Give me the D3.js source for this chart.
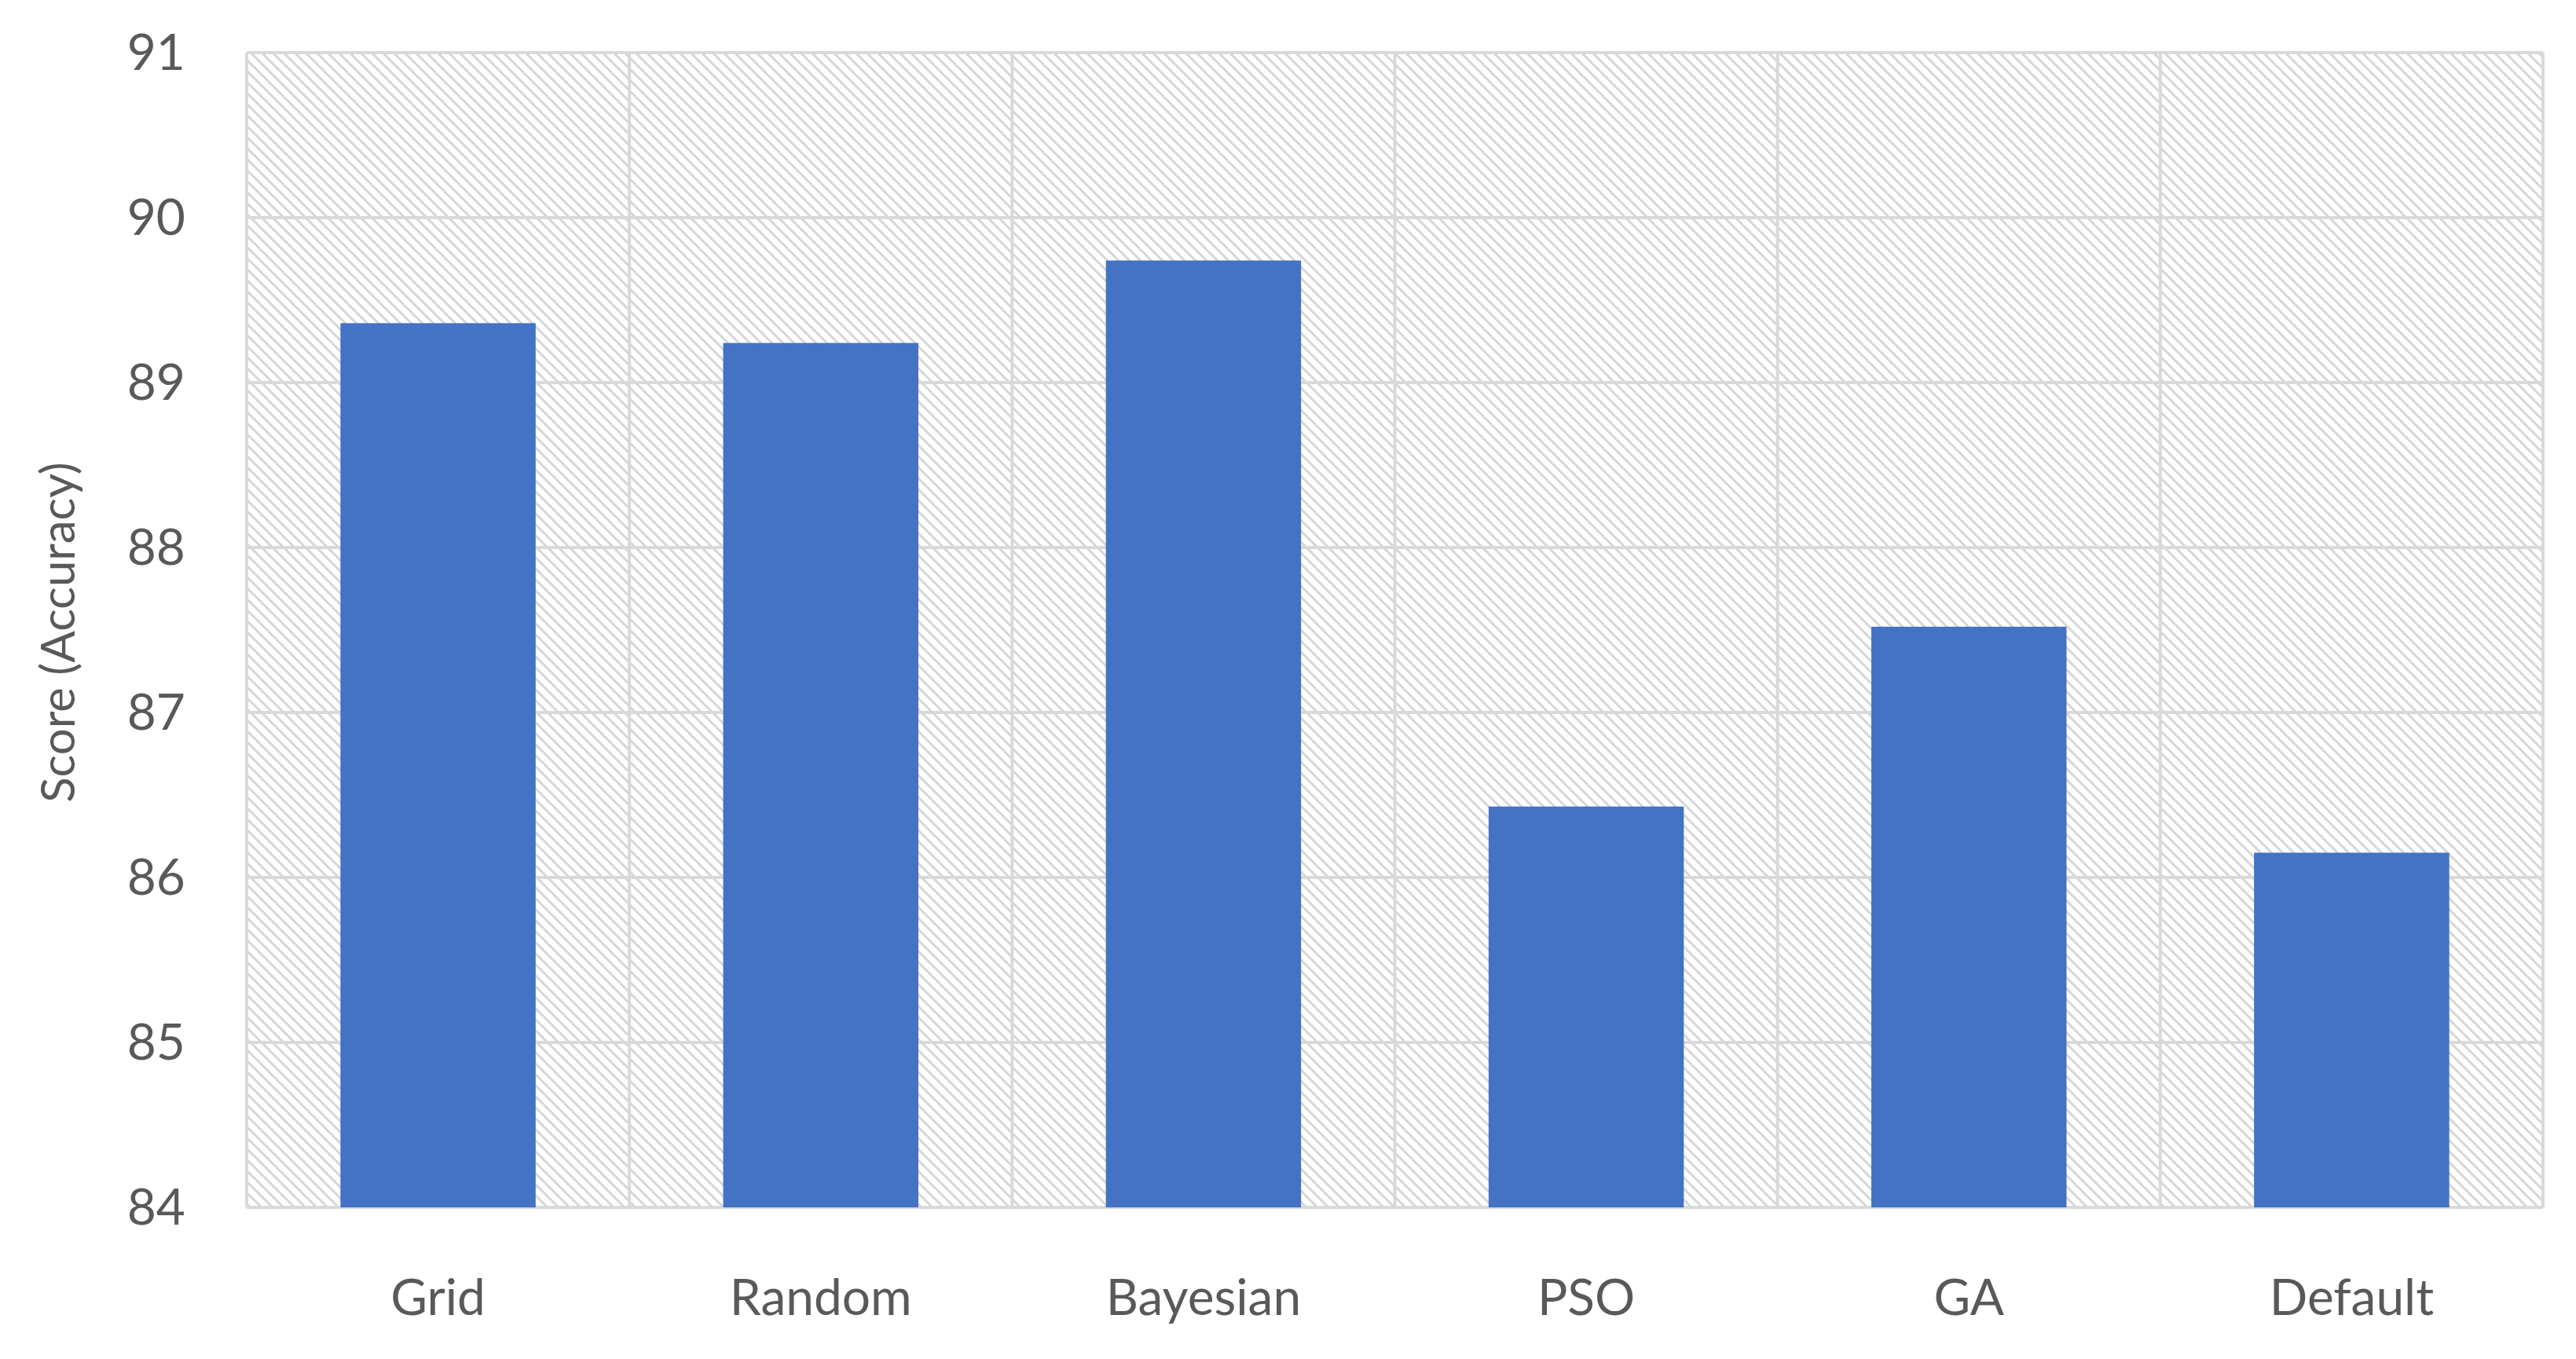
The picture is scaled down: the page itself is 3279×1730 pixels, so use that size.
<!DOCTYPE html>
<html><head><meta charset="utf-8">
<script src="https://cdn.jsdelivr.net/npm/d3@7"></script>
<style>body{margin:0;background:#fff}</style></head>
<body><svg id="c" width="3279" height="1730"></svg>
<script>
const categories = ["Grid","Random","Bayesian","PSO","GA","Default"];
const values = [89.36, 89.24, 89.74, 86.43, 87.52, 86.15];
const yTicks = [84,85,86,87,88,89,90,91];

const svg = d3.select("#c");
const L=314, R=3237, T=67, B=1537;
const x = d3.scaleBand().domain(categories).range([L,R]).paddingInner(0.49).paddingOuter(0.245);
const xb = d3.scaleBand().domain(categories).range([L,R]);
const y = d3.scaleLinear().domain([84,91]).range([B,T]);
const font = "Lato, 'Open Sans', sans-serif";

const defs = svg.append("defs");
const p = defs.append("pattern").attr("id","hatch").attr("patternUnits","userSpaceOnUse")
  .attr("width",14).attr("height",14);
p.append("rect").attr("width",14).attr("height",14).attr("fill","#fff");
p.append("path").attr("d","M-2,-2 L16,16 M-2,12 L2,16 M12,-2 L16,2").attr("stroke","#d6d6d6").attr("stroke-width",3);

svg.append("rect").attr("x",L).attr("y",T).attr("width",R-L).attr("height",B-T).attr("fill","url(#hatch)");

const grid = svg.append("g").attr("stroke","#d9d9d9").attr("stroke-width",4);
grid.selectAll("line.h").data(yTicks).join("line").attr("class","h")
  .attr("x1",L).attr("x2",R).attr("y1",d=>y(d)).attr("y2",d=>y(d));
const vlines = categories.map(c=>xb(c)).concat([R]);
grid.selectAll("line.v").data(vlines).join("line").attr("class","v")
  .attr("x1",d=>d).attr("x2",d=>d).attr("y1",T).attr("y2",B);

svg.append("g").selectAll("rect").data(categories).join("rect")
  .attr("x",d=>x(d)).attr("width",x.bandwidth())
  .attr("y",(d,i)=>y(values[i])).attr("height",(d,i)=>B-y(values[i]))
  .attr("fill","#4472c4");

svg.append("g").selectAll("text").data(yTicks).join("text")
  .attr("x",236).attr("y",d=>y(d)).attr("dy","0.35em").attr("text-anchor","end")
  .attr("font-family",font).attr("font-size",64).attr("fill","#595959").text(d=>d);

svg.append("g").selectAll("text").data(categories).join("text")
  .attr("x",d=>xb(d)+xb.bandwidth()/2).attr("y",1652).attr("dy","0.35em").attr("text-anchor","middle")
  .attr("font-family",font).attr("font-size",64).attr("fill","#595959").text(d=>d);

svg.append("text").attr("transform","translate(74,805) rotate(-90)").attr("dy","0.35em")
  .attr("text-anchor","middle").attr("font-family",font).attr("font-size",60).attr("fill","#595959")
  .text("Score (Accuracy)");
</script></body></html>
